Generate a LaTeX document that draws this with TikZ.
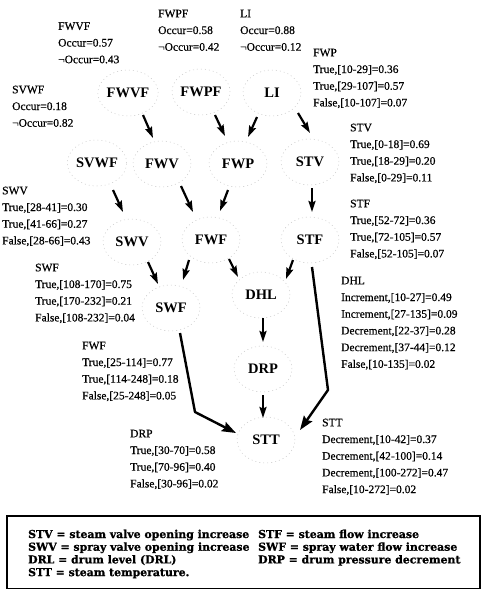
\documentclass[tikz,border=0pt]{standalone}
\usepackage{fontspec}
\setmainfont{Liberation Serif}
\newfontfamily\infofont{Liberation Serif}[FakeBold=0.5]
\newfontfamily\legendfont{DejaVu Serif}[BoldFeatures={FakeBold=1}]
\usetikzlibrary{shapes.geometric,arrows.meta}
\begin{document}
\begin{tikzpicture}[x=1pt,y=-1pt,
  bn/.style={ellipse, draw=gray!45, dash pattern=on 1pt off 3pt, line width=0.5pt,
    minimum width=58pt, minimum height=46pt, inner sep=0pt,
    font=\fontsize{14.5}{16}\selectfont\bfseries},
  info/.style={anchor=base west, inner sep=0pt, font=\infofont\fontsize{11.5}{16.7}\selectfont},
  legend/.style={anchor=base west, inner sep=0pt, font=\legendfont\bfseries\fontsize{10.9}{12.7}\selectfont},
  arr/.style={line width=2.2pt, -{Stealth[length=11pt,width=7pt,inset=1.5pt]}},
  bigarr/.style={line width=2.4pt, line join=round, -{Stealth[length=14pt,width=10pt,inset=2pt]}},
]
\useasboundingbox (0,0) rectangle (483,590);

% network nodes
\node[bn] (fwvf) at (128,93) {FWVF};
\node[bn] (fwpf) at (201,92) {FWPF};
\node[bn] (li)   at (272,93) {LI};
\node[bn] (svwf) at (97,163) {SVWF};
\node[bn] (fwv)  at (162,164) {FWV};
\node[bn] (fwp)  at (238,164) {FWP};
\node[bn] (stv)  at (310,162) {STV};
\node[bn] (swv)  at (132,242) {SWV};
\node[bn] (fwf)  at (211,240) {FWF};
\node[bn] (stf)  at (310,240) {STF};
\node[bn] (swf)  at (171,308) {SWF};
\node[bn] (dhl)  at (261,295) {DHL};
\node[bn] (drp)  at (263,369) {DRP};
\node[bn] (stt)  at (266,440) {STT};

% probability tables
\node[info] (tfwvf) at (58,29.8) {\begin{tabular}[t]{@{}l@{}}FWVF\\Occur=0.57\\¬Occur=0.43\end{tabular}};
\node[info] (tfwpf) at (158,17.3) {\begin{tabular}[t]{@{}l@{}}FWPF\\Occur=0.58\\¬Occur=0.42\end{tabular}};
\node[info] (tli) at (240,17.3) {\begin{tabular}[t]{@{}l@{}}LI\\Occur=0.88\\¬Occur=0.12\end{tabular}};
\node[info] (tfwp) at (313,56.3) {\begin{tabular}[t]{@{}l@{}}FWP\\True,[10-29]=0.36\\True,[29-107]=0.57\\False,[10-107]=0.07\end{tabular}};
\node[info] (tsvwf) at (12,93.3) {\begin{tabular}[t]{@{}l@{}}SVWF\\Occur=0.18\\¬Occur=0.82\end{tabular}};
\node[info] (tstv) at (350,131.3) {\begin{tabular}[t]{@{}l@{}}STV\\True,[0-18]=0.69\\True,[18-29]=0.20\\False,[0-29]=0.11\end{tabular}};
\node[info] (tswv) at (2,194.3) {\begin{tabular}[t]{@{}l@{}}SWV\\True,[28-41]=0.30\\True,[41-66]=0.27\\False,[28-66]=0.43\end{tabular}};
\node[info] (tstf) at (350,207.3) {\begin{tabular}[t]{@{}l@{}}STF\\True,[52-72]=0.36\\True,[72-105]=0.57\\False,[52-105]=0.07\end{tabular}};
\node[info] (tswf) at (35,271.3) {\begin{tabular}[t]{@{}l@{}}SWF\\True,[108-170]=0.75\\True,[170-232]=0.21\\False,[108-232]=0.04\end{tabular}};
\node[info] (tdhl) at (341,284.3) {\begin{tabular}[t]{@{}l@{}}DHL\\Increment,[10-27]=0.49\\Increment,[27-135]=0.09\\Decrement,[22-37]=0.28\\Decrement,[37-44]=0.12\\False,[10-135]=0.02\end{tabular}};
\node[info] (tfwf) at (82,349.3) {\begin{tabular}[t]{@{}l@{}}FWF\\True,[25-114]=0.77\\True,[114-248]=0.18\\False,[25-248]=0.05\end{tabular}};
\node[info] (tdrp) at (130,437.3) {\begin{tabular}[t]{@{}l@{}}DRP\\True,[30-70]=0.58\\True,[70-96]=0.40\\False,[30-96]=0.02\end{tabular}};
\node[info] (tstt) at (322,426.3) {\begin{tabular}[t]{@{}l@{}}STT\\Decrement,[10-42]=0.37\\Decrement,[42-100]=0.14\\Decrement,[100-272]=0.47\\False,[10-272]=0.02\end{tabular}};

% arrows
\draw[arr] ([shift={(15,22)}]fwvf.center) -- ([shift={(-9,-26)}]fwv.center);
\draw[arr] ([shift={(14,23)}]fwpf.center) -- ([shift={(-13,-28)}]fwp.center);
\draw[arr] ([shift={(-15,24)}]li.center) -- ([shift={(10,-27)}]fwp.center);
\draw[arr] ([shift={(26,20)}]li.center) -- ([shift={(0,-29)}]stv.center);
\draw[arr] ([shift={(16,27)}]svwf.center) -- ([shift={(-9,-30)}]swv.center);
\draw[arr] ([shift={(19,22)}]fwv.center) -- ([shift={(-18,-28)}]fwf.center);
\draw[arr] ([shift={(-10,26)}]fwp.center) -- ([shift={(9,-29)}]fwf.center);
\draw[arr] ([shift={(2,26)}]stv.center) -- ([shift={(2,-28)}]stf.center);
\draw[arr] ([shift={(16,20)}]swv.center) -- ([shift={(-13,-24)}]swf.center);
\draw[arr] ([shift={(-22,20)}]fwf.center) -- ([shift={(12,-28)}]swf.center);
\draw[arr] ([shift={(18,19)}]fwf.center) -- ([shift={(-23,-18)}]dhl.center);
\draw[arr] ([shift={(-17,20)}]stf.center) -- ([shift={(25,-16)}]dhl.center);
\draw[arr] ([shift={(2,23)}]dhl.center) -- ([shift={(0,-27)}]drp.center);
\draw[arr] ([shift={(0,26)}]drp.center) -- ([shift={(-3,-22)}]stt.center);
\draw[bigarr] ([shift={(9,25)}]swf.center) -- ([shift={(24,104)}]swf.center) -- ([shift={(-30,-7)}]stt.center);
\draw[bigarr] ([shift={(2,27)}]stf.center) -- ([shift={(18,150)}]stf.center) -- ([shift={(34,-10)}]stt.center);

% legend
\draw[line width=1.5pt] (7,516) rectangle (480,588.5);
\node[legend] (leg1) at (28,538) {\begin{tabular}[t]{@{}l@{}}STV = steam valve opening increase\\SWV = spray valve opening increase\\DRL = drum level (DRL)\\STT = steam temperature.\end{tabular}};
\node[legend] (leg2) at (258,538) {\begin{tabular}[t]{@{}l@{}}STF = steam flow increase\\SWF = spray water flow increase\\DRP = drum pressure decrement\end{tabular}};
\end{tikzpicture}
\end{document}
